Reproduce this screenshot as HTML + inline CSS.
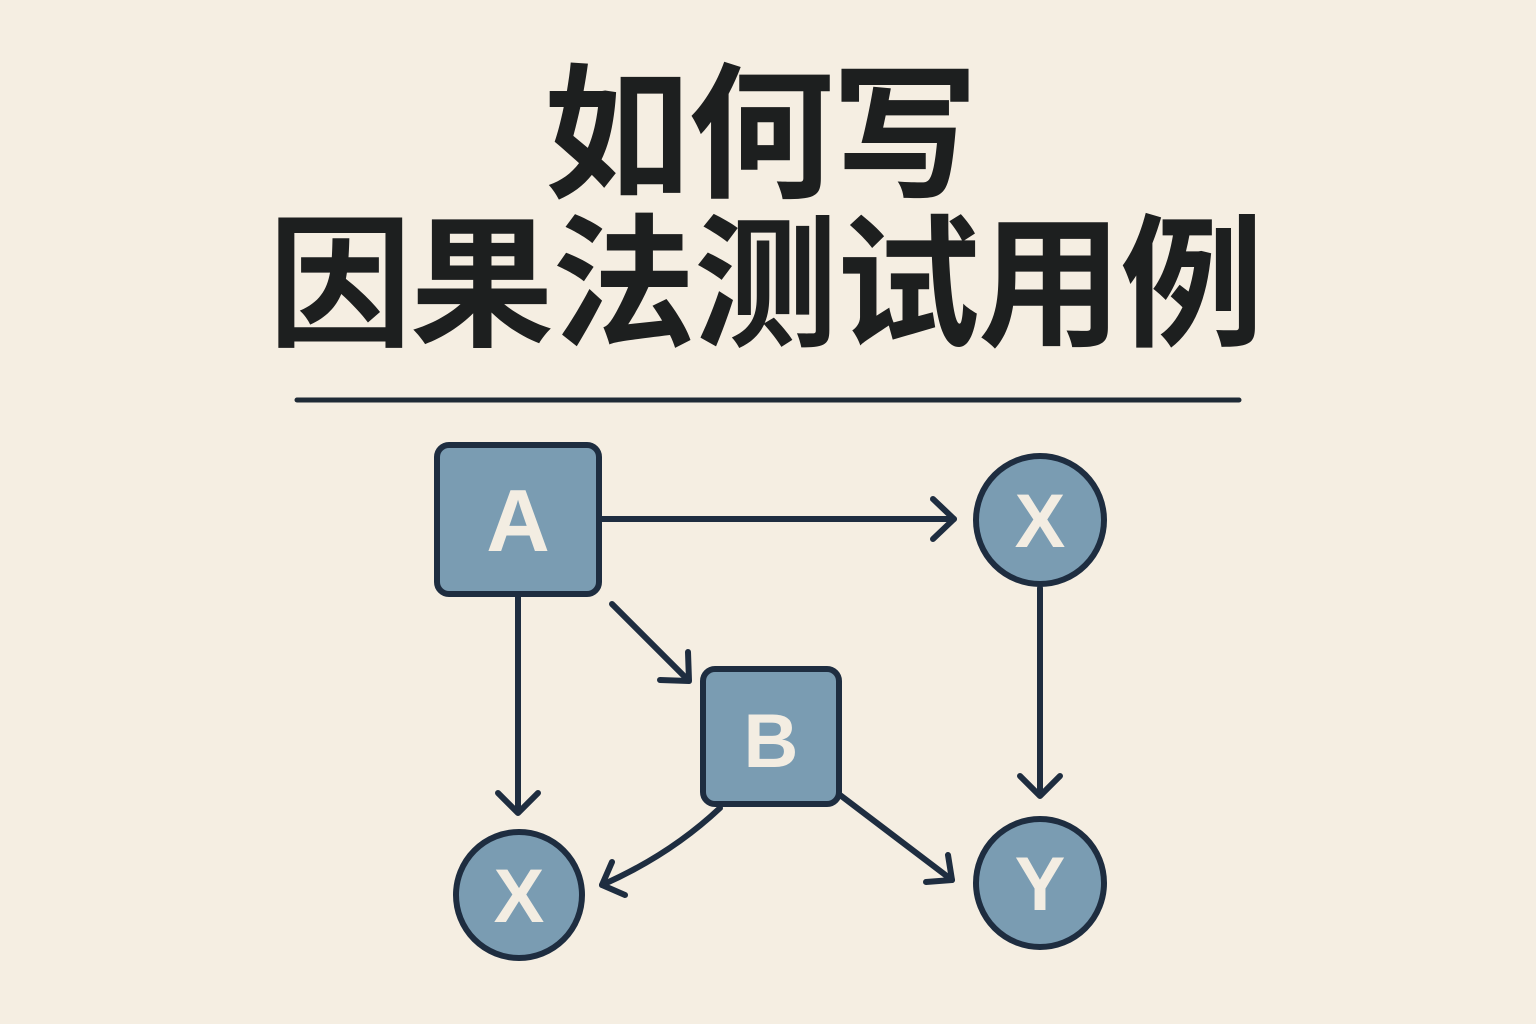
<!DOCTYPE html>
<html><head><meta charset="utf-8"><style>
html,body{margin:0;padding:0;}
body{width:1536px;height:1024px;background:#f5eee2;position:relative;overflow:hidden;}
.t{position:absolute;left:0;width:1536px;text-align:center;font-family:"Liberation Sans","Noto Sans CJK SC",sans-serif;font-weight:700;color:#1d1f1f;font-size:146px;line-height:146px;}
</style></head><body>
<div class="t" style="top:63px;left:-8px;letter-spacing:-2px">如何写</div>
<div class="t" style="top:214px;left:-3px;font-size:144px;line-height:144px;letter-spacing:-2px">因果法测试用例</div>
<svg width="1536" height="1024" style="position:absolute;left:0;top:0">
<line x1="297" y1="400" x2="1239" y2="400" stroke="#1f2a36" stroke-width="5" stroke-linecap="round"/>
<g stroke="#1e2d40" stroke-width="6" fill="none" stroke-linecap="round" stroke-linejoin="round">
<line x1="600" y1="519" x2="954" y2="519"/><polyline points="933,499 954,519 933,539"/>
<line x1="518" y1="595" x2="518" y2="812"/><polyline points="498,793 518,813 538,793"/>
<line x1="1040" y1="588" x2="1040" y2="795"/><polyline points="1020,776 1040,796 1060,776"/>
<line x1="612" y1="604" x2="688" y2="680"/><polyline points="660,680 689,681 688,652"/>
<path d="M720,808 Q670,855 602,885"/><polyline points="625,895 602,885 612,862"/>
<line x1="840" y1="795" x2="952" y2="880"/><polyline points="926,882 952,880 948,855"/>
</g>
<g fill="#7a9cb2" stroke="#1e2d40" stroke-width="6">
<rect x="437" y="445" width="162" height="149" rx="12"/>
<rect x="703" y="669" width="136" height="135" rx="12"/>
<circle cx="1040" cy="520" r="64"/>
<circle cx="519" cy="895" r="63"/>
<circle cx="1040" cy="883" r="64"/>
</g>
<g fill="#f3ede2" font-family="Liberation Sans,sans-serif" font-weight="bold" text-anchor="middle">
<text x="518" y="551" font-size="88">A</text>
<text x="771" y="767" font-size="76">B</text>
<text x="1040" y="547" font-size="76">X</text>
<text x="519" y="922" font-size="76">X</text>
<text x="1040" y="910" font-size="76">Y</text>
</g>
</svg>
</body></html>
